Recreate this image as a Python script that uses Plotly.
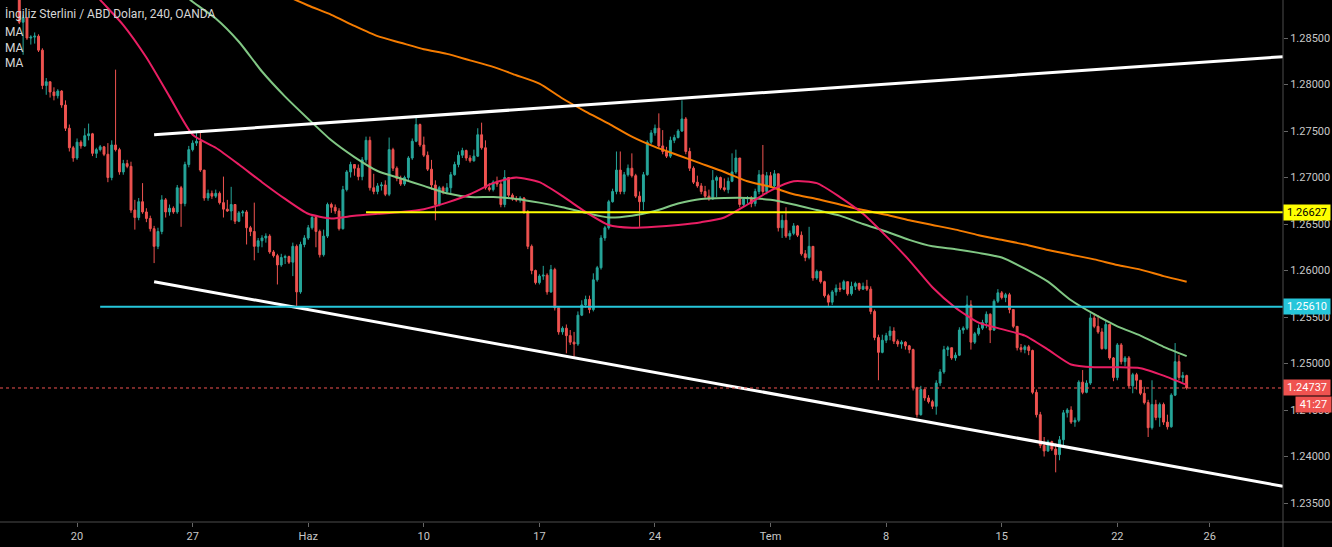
import pandas as pd
import plotly.graph_objects as go

# ---------------- data (GBP/USD, 4h bars, chart time) ----------------
first_open = 1.2896
closes = [
    1.2867, 1.2872, 1.2850, 1.2851, 1.2852, 1.2837, 1.2799, 1.2803, 1.2792, 1.2788, 1.2793, 1.2778, 1.2753, 1.2732, 1.2721,
    1.2738, 1.2734, 1.2745, 1.2747, 1.2726, 1.2730, 1.2733, 1.2725, 1.2700, 1.2735,
    1.2730, 1.2706, 1.2715, 1.2712, 1.2665, 1.2657, 1.2674, 1.2663, 1.2656, 1.2645,
    1.2626, 1.2642, 1.2676, 1.2663, 1.2667, 1.2663, 1.2689, 1.2672, 1.2714, 1.2730,
    1.2737, 1.2739, 1.2708, 1.2678, 1.2683, 1.2680, 1.2683, 1.2673, 1.2666, 1.2664,
    1.2671, 1.2653, 1.2662, 1.2663, 1.2646, 1.2642, 1.2626, 1.2632, 1.2635, 1.2637,
    1.2620, 1.2616, 1.2606, 1.2614, 1.2615, 1.2609, 1.2626, 1.2577, 1.2628, 1.2635,
    1.2646, 1.2657, 1.2642, 1.2617, 1.2637, 1.2671, 1.2668, 1.2664, 1.2645, 1.2687,
    1.2706, 1.2714, 1.2710, 1.2701, 1.2719, 1.2740, 1.2689, 1.2685, 1.2691, 1.2692,
    1.2682, 1.2730, 1.2710, 1.2699, 1.2693, 1.2700, 1.2721, 1.2739, 1.2757, 1.2735,
    1.2724, 1.2709, 1.2692, 1.2671, 1.2689, 1.2685, 1.2689, 1.2703, 1.2714, 1.2724,
    1.2729, 1.2721, 1.2718, 1.2723, 1.2746, 1.2732, 1.2689, 1.2687, 1.2695, 1.2693,
    1.2671, 1.2700, 1.2681, 1.2677, 1.2676, 1.2678, 1.2663, 1.2626, 1.2600, 1.2587,
    1.2594, 1.2595, 1.2577, 1.2601, 1.2560, 1.2534, 1.2538, 1.2530, 1.2523, 1.2521,
    1.2552, 1.2563, 1.2569, 1.2558, 1.2590, 1.2603, 1.2635, 1.2646, 1.2674, 1.2685,
    1.2708, 1.2685, 1.2703, 1.2710, 1.2702, 1.2680, 1.2674, 1.2703, 1.2738, 1.2748,
    1.2753, 1.2734, 1.2728, 1.2723, 1.2740, 1.2743, 1.2750, 1.2763, 1.2728, 1.2710,
    1.2695, 1.2691, 1.2685, 1.2680, 1.2677, 1.2697, 1.2700, 1.2689, 1.2687, 1.2696,
    1.2706, 1.2721, 1.2671, 1.2677, 1.2678, 1.2672, 1.2685, 1.2703, 1.2685, 1.2702,
    1.2691, 1.2704, 1.2646, 1.2654, 1.2637, 1.2640, 1.2648, 1.2638, 1.2618, 1.2614,
    1.2626, 1.2592, 1.2599, 1.2588, 1.2573, 1.2566, 1.2577, 1.2581, 1.2580, 1.2588,
    1.2575, 1.2583, 1.2586, 1.2580, 1.2583, 1.2580, 1.2556, 1.2528, 1.2512, 1.2525,
    1.2530, 1.2535, 1.2524, 1.2521, 1.2523, 1.2519, 1.2515, 1.2474, 1.2445, 1.2472,
    1.2463, 1.2459, 1.2454, 1.2479, 1.2491, 1.2515, 1.2517, 1.2506, 1.2509, 1.2536,
    1.2538, 1.2563, 1.2523, 1.2532, 1.2538, 1.2544, 1.2553, 1.2536, 1.2567, 1.2576,
    1.2571, 1.2574, 1.2558, 1.2540, 1.2517, 1.2515, 1.2518, 1.2514, 1.2469, 1.2445,
    1.2412, 1.2406, 1.2416, 1.2408, 1.2402, 1.2418, 1.2447, 1.2450, 1.2437, 1.2439,
    1.2480, 1.2469, 1.2479, 1.2549, 1.2540, 1.2534, 1.2516, 1.2542, 1.2506, 1.2485,
    1.2520, 1.2502, 1.2506, 1.2476, 1.2488, 1.2482, 1.2468, 1.2458, 1.2431, 1.2456,
    1.2442, 1.2456, 1.2437, 1.2432, 1.2466, 1.2502, 1.2485, 1.2487, 1.24737,
]
highs = [
    1.2900, 1.2875, 1.2872, 1.2853, 1.2856, 1.2854, 1.2839, 1.2807, 1.2803, 1.2797, 1.2795, 1.2794, 1.2783, 1.2757, 1.2734,
    1.2742, 1.2740, 1.2753, 1.2758, 1.2748, 1.2732, 1.2735, 1.2734, 1.2737, 1.2740,
    1.2816, 1.2732, 1.2719, 1.2719, 1.2717, 1.2676, 1.2678, 1.2694, 1.2667, 1.2659,
    1.2648, 1.2646, 1.2681, 1.2678, 1.2671, 1.2669, 1.2692, 1.2691, 1.2717, 1.2734,
    1.2740, 1.2748, 1.2749, 1.2708, 1.2687, 1.2686, 1.2687, 1.2685, 1.2701, 1.2676,
    1.2690, 1.2671, 1.2664, 1.2665, 1.2665, 1.2648, 1.2673, 1.2635, 1.2638, 1.2640,
    1.2639, 1.2622, 1.2618, 1.2618, 1.2617, 1.2616, 1.2630, 1.2628, 1.2631, 1.2638,
    1.2649, 1.2660, 1.2659, 1.2644, 1.2644, 1.2673, 1.2673, 1.2671, 1.2667, 1.2691,
    1.2708, 1.2717, 1.2714, 1.2714, 1.2722, 1.2744, 1.2744, 1.2704, 1.2694, 1.2695,
    1.2697, 1.2743, 1.2732, 1.2712, 1.2702, 1.2702, 1.2723, 1.2742, 1.2764, 1.2758,
    1.2744, 1.2728, 1.2719, 1.2697, 1.2691, 1.2691, 1.2694, 1.2706, 1.2717, 1.2728,
    1.2732, 1.2730, 1.2724, 1.2730, 1.2753, 1.2759, 1.2740, 1.2694, 1.2697, 1.2701,
    1.2697, 1.2708, 1.2700, 1.2683, 1.2680, 1.2680, 1.2679, 1.2665, 1.2628, 1.2601,
    1.2596, 1.2605, 1.2597, 1.2606, 1.2603, 1.2560, 1.2540, 1.2542, 1.2536, 1.2534,
    1.2556, 1.2568, 1.2573, 1.2573, 1.2597, 1.2605, 1.2638, 1.2648, 1.2676, 1.2688,
    1.2728, 1.2728, 1.2706, 1.2714, 1.2726, 1.2704, 1.2685, 1.2706, 1.2740, 1.2751,
    1.2757, 1.2769, 1.2751, 1.2733, 1.2744, 1.2746, 1.2752, 1.2783, 1.2765, 1.2732,
    1.2712, 1.2702, 1.2694, 1.2691, 1.2687, 1.2708, 1.2702, 1.2701, 1.2699, 1.2700,
    1.2726, 1.2730, 1.2721, 1.2679, 1.2680, 1.2680, 1.2688, 1.2708, 1.2735, 1.2706,
    1.2706, 1.2708, 1.2703, 1.2660, 1.2668, 1.2643, 1.2651, 1.2649, 1.2642, 1.2622,
    1.2647, 1.2626, 1.2601, 1.2600, 1.2589, 1.2575, 1.2579, 1.2585, 1.2587, 1.2590,
    1.2588, 1.2588, 1.2588, 1.2587, 1.2587, 1.2590, 1.2583, 1.2558, 1.2531, 1.2531,
    1.2533, 1.2540, 1.2539, 1.2526, 1.2525, 1.2524, 1.2520, 1.2516, 1.2475, 1.2476,
    1.2473, 1.2466, 1.2461, 1.2482, 1.2494, 1.2519, 1.2519, 1.2517, 1.2512, 1.2539,
    1.2540, 1.2573, 1.2568, 1.2534, 1.2542, 1.2547, 1.2556, 1.2554, 1.2569, 1.2580,
    1.2578, 1.2576, 1.2576, 1.2556, 1.2540, 1.2521, 1.2520, 1.2520, 1.2515, 1.2472,
    1.2448, 1.2421, 1.2418, 1.2417, 1.2414, 1.2422, 1.2450, 1.2452, 1.2454, 1.2442,
    1.2482, 1.2493, 1.2482, 1.2554, 1.2554, 1.2552, 1.2538, 1.2547, 1.2538, 1.2507,
    1.2522, 1.2522, 1.2508, 1.2508, 1.2490, 1.2490, 1.2482, 1.2475, 1.2461, 1.2482,
    1.2461, 1.2458, 1.2458, 1.2445, 1.2468, 1.2522, 1.2509, 1.2491, 1.2488,
]
lows = [
    1.2865, 1.2832, 1.2848, 1.2843, 1.2844, 1.2835, 1.2795, 1.2789, 1.2786, 1.2783, 1.2785, 1.2775, 1.2750, 1.2728, 1.2717,
    1.2719, 1.2731, 1.2733, 1.2740, 1.2723, 1.2721, 1.2728, 1.2723, 1.2695, 1.2697,
    1.2728, 1.2703, 1.2703, 1.2710, 1.2662, 1.2644, 1.2654, 1.2661, 1.2652, 1.2642,
    1.2608, 1.2623, 1.2639, 1.2657, 1.2659, 1.2661, 1.2661, 1.2647, 1.2669, 1.2711,
    1.2728, 1.2734, 1.2706, 1.2675, 1.2675, 1.2677, 1.2678, 1.2671, 1.2657, 1.2663,
    1.2654, 1.2650, 1.2652, 1.2658, 1.2628, 1.2637, 1.2611, 1.2619, 1.2625, 1.2630,
    1.2618, 1.2614, 1.2585, 1.2604, 1.2607, 1.2607, 1.2594, 1.2561, 1.2575, 1.2625,
    1.2633, 1.2644, 1.2625, 1.2614, 1.2615, 1.2635, 1.2662, 1.2661, 1.2643, 1.2644,
    1.2685, 1.2700, 1.2702, 1.2697, 1.2697, 1.2716, 1.2686, 1.2682, 1.2682, 1.2686,
    1.2680, 1.2680, 1.2707, 1.2696, 1.2691, 1.2691, 1.2697, 1.2719, 1.2738, 1.2733,
    1.2722, 1.2707, 1.2687, 1.2654, 1.2669, 1.2682, 1.2682, 1.2683, 1.2702, 1.2711,
    1.2721, 1.2718, 1.2716, 1.2717, 1.2722, 1.2730, 1.2687, 1.2685, 1.2685, 1.2690,
    1.2668, 1.2668, 1.2679, 1.2675, 1.2674, 1.2673, 1.2661, 1.2623, 1.2596, 1.2585,
    1.2585, 1.2590, 1.2574, 1.2576, 1.2557, 1.2531, 1.2531, 1.2511, 1.2520, 1.2507,
    1.2519, 1.2551, 1.2560, 1.2554, 1.2556, 1.2588, 1.2601, 1.2632, 1.2644, 1.2673,
    1.2682, 1.2682, 1.2682, 1.2701, 1.2700, 1.2678, 1.2647, 1.2665, 1.2702, 1.2736,
    1.2745, 1.2732, 1.2725, 1.2721, 1.2721, 1.2737, 1.2742, 1.2749, 1.2725, 1.2707,
    1.2693, 1.2689, 1.2682, 1.2678, 1.2675, 1.2676, 1.2679, 1.2687, 1.2685, 1.2683,
    1.2695, 1.2704, 1.2668, 1.2669, 1.2672, 1.2668, 1.2669, 1.2682, 1.2682, 1.2682,
    1.2689, 1.2689, 1.2642, 1.2635, 1.2635, 1.2633, 1.2638, 1.2636, 1.2616, 1.2610,
    1.2612, 1.2589, 1.2590, 1.2586, 1.2571, 1.2562, 1.2563, 1.2573, 1.2577, 1.2579,
    1.2573, 1.2573, 1.2579, 1.2578, 1.2579, 1.2578, 1.2553, 1.2525, 1.2482, 1.2511,
    1.2522, 1.2525, 1.2521, 1.2518, 1.2516, 1.2515, 1.2511, 1.2471, 1.2442, 1.2444,
    1.2460, 1.2457, 1.2451, 1.2445, 1.2476, 1.2489, 1.2508, 1.2504, 1.2503, 1.2508,
    1.2532, 1.2536, 1.2515, 1.2521, 1.2530, 1.2536, 1.2538, 1.2522, 1.2535, 1.2565,
    1.2569, 1.2566, 1.2554, 1.2538, 1.2514, 1.2512, 1.2511, 1.2509, 1.2467, 1.2442,
    1.2409, 1.2400, 1.2405, 1.2406, 1.2383, 1.2396, 1.2412, 1.2442, 1.2435, 1.2432,
    1.2437, 1.2467, 1.2468, 1.2477, 1.2538, 1.2532, 1.2515, 1.2515, 1.2504, 1.2481,
    1.2482, 1.2499, 1.2497, 1.2474, 1.2468, 1.2472, 1.2466, 1.2456, 1.2421, 1.2429,
    1.2439, 1.2432, 1.2434, 1.2429, 1.2431, 1.2465, 1.2482, 1.2480, 1.2472,
]

# moving averages, read once per trading day (00:00 bar)
ma_red = [
    1.2919, 1.2891, 1.2864, 1.2829, 1.2787, 1.2746, 1.2732, 1.2714, 1.2695, 1.2677,
    1.2661, 1.2656, 1.2659, 1.2661, 1.2663, 1.2666, 1.2673, 1.2682, 1.2694, 1.2700,
    1.2695, 1.2680, 1.2663, 1.2649, 1.2646, 1.2647, 1.2649, 1.2652, 1.2657, 1.2671,
    1.2686, 1.2696, 1.2694, 1.2679, 1.2661, 1.2637, 1.2611, 1.2582, 1.2560, 1.2544,
    1.2537, 1.2530, 1.2515, 1.2499, 1.2496, 1.2496, 1.2495, 1.2487, 1.2477,
]
ma_green = [
    1.2910, 1.2889, 1.2871, 1.2846, 1.2814, 1.2787, 1.2763, 1.2740, 1.2722, 1.2707,
    1.2699, 1.2691, 1.2683, 1.2679, 1.2679, 1.2677, 1.2673, 1.2668, 1.2662, 1.2657,
    1.2659, 1.2664, 1.2672, 1.2677, 1.2678, 1.2678, 1.2676, 1.2671, 1.2665, 1.2659,
    1.2650, 1.2642, 1.2633, 1.2626, 1.2623, 1.2619, 1.2614, 1.2602, 1.2588, 1.2568,
    1.2553, 1.2540, 1.2530, 1.2518, 1.2508,
]
ma_orange = [
    1.2896, 1.2885, 1.2875, 1.2863, 1.2852, 1.2845, 1.2838, 1.2833, 1.2826, 1.2819,
    1.2810, 1.2801, 1.2785, 1.2771, 1.2758, 1.2744, 1.2733, 1.2724, 1.2715, 1.2706,
    1.2696, 1.2690, 1.2682, 1.2677, 1.2671, 1.2665, 1.2660, 1.2654, 1.2649, 1.2644,
    1.2638, 1.2633, 1.2628, 1.2622, 1.2617, 1.2612, 1.2606, 1.2601, 1.2594, 1.2588,
]

# drawings
upper_trend = [("2019-05-23 08:00", 1.2746), ("2019-07-31 04:00", 1.2830)]
lower_trend = [("2019-05-23 08:00", 1.2588), ("2019-07-31 04:00", 1.2368)]
yellow_level = 1.26627
yellow_start = "2019-06-05 12:00"
cyan_level = 1.25610
cyan_start = "2019-05-21 00:00"
last_price = 1.24737
countdown = "41:27"

tick_dates = ["2019-05-20", "2019-05-27", "2019-06-03", "2019-06-10", "2019-06-17",
              "2019-06-24", "2019-07-01", "2019-07-08", "2019-07-15", "2019-07-22", "2019-07-26"]
tick_labels = ["20", "27", "Haz", "10", "17", "24", "Tem", "8", "15", "22", "26"]
price_ticks = [1.235, 1.240, 1.245, 1.250, 1.255, 1.260, 1.265, 1.270, 1.275, 1.280, 1.285]

title_text = "İngiliz Sterlini / ABD Doları, 240, OANDA"

# ---------------- build ----------------
all_times = pd.date_range("2019-05-15 12:00", "2019-07-25 00:00", freq="4h")
times = [t for t in all_times if t.weekday() < 5][:len(closes)]
opens = [first_open] + closes[:-1]
highs = [max(h, o, c) for h, o, c in zip(highs, opens, closes)]
lows = [min(l, o, c) for l, o, c in zip(lows, opens, closes)]

days = pd.bdate_range("2019-05-20", "2019-07-25")
red_days = days[len(days) - len(ma_red):]
green_days = days[len(days) - len(ma_green):]
orange_days = days[len(days) - len(ma_orange):]

UP, DOWN = "#26a69a", "#ef5350"
X_START, X_END = "2019-05-14 16:00", "2019-07-31 04:00"
Y_MIN, Y_MAX = 1.23296, 1.28909
FONT = "Roboto, 'Liberation Sans', sans-serif"

fig = go.Figure()
fig.add_trace(go.Candlestick(
    x=times, open=opens, high=highs, low=lows, close=closes,
    increasing=dict(line=dict(color=UP, width=1), fillcolor=UP),
    decreasing=dict(line=dict(color=DOWN, width=1), fillcolor=DOWN),
    whiskerwidth=0, showlegend=False))
for d, v, col in [(orange_days, ma_orange, "#f57c00"),
                  (green_days, ma_green, "#81c784"),
                  (red_days, ma_red, "#e91e63")]:
    fig.add_trace(go.Scatter(x=d, y=v, mode="lines", showlegend=False, hoverinfo="skip",
                             line=dict(color=col, width=2, shape="spline", smoothing=0.6)))

shapes = []
for (p0, p1) in [upper_trend, lower_trend]:
    shapes.append(dict(type="line", xref="x", yref="y", x0=p0[0], y0=p0[1], x1=p1[0], y1=p1[1],
                       line=dict(color="#ffffff", width=3)))
shapes.append(dict(type="line", xref="x", yref="y", x0=yellow_start, x1=X_END, y0=yellow_level, y1=yellow_level,
                   line=dict(color="#ffff00", width=2)))
shapes.append(dict(type="line", xref="x", yref="y", x0=cyan_start, x1=X_END, y0=cyan_level, y1=cyan_level,
                   line=dict(color="#26c6da", width=2)))
shapes.append(dict(type="line", xref="paper", yref="y", x0=0, x1=1, y0=last_price, y1=last_price,
                   line=dict(color="#ef5350", width=1, dash="dot")))
# axis separators
shapes.append(dict(type="line", xref="paper", yref="paper", x0=0, x1=1.04, y0=0, y1=0,
                   line=dict(color="#4c4c4c", width=1)))
shapes.append(dict(type="line", xref="paper", yref="paper", x0=1, x1=1, y0=-0.05, y1=1,
                   line=dict(color="#4c4c4c", width=1)))

annotations = [
    dict(xref="paper", yref="paper", x=0, y=1, xanchor="left", yanchor="top", xshift=3, yshift=-4,
         text=title_text, showarrow=False, font=dict(color="#d6d6d6", size=12, family=FONT)),
]
for k in range(3):
    annotations.append(dict(xref="paper", yref="paper", x=0, y=1, xanchor="left", yanchor="top",
                            xshift=3, yshift=-23 - 15.5 * k, text="MA", showarrow=False,
                            font=dict(color="#d6d6d6", size=12, family=FONT)))
for lvl, bg, fg in [(yellow_level, "#ffff00", "#000000"),
                    (cyan_level, "#26c6da", "#ffffff"),
                    (last_price, "#ef5350", "#ffffff")]:
    annotations.append(dict(xref="paper", yref="y", x=1, y=lvl, xanchor="left", yanchor="middle",
                            text=f"{lvl:.5f}", showarrow=False, bgcolor=bg, width=44, height=13,
                            borderpad=1, font=dict(color=fg, size=11, family=FONT)))
annotations.append(dict(xref="paper", yref="y", x=1, y=last_price, xanchor="right", yanchor="middle",
                        xshift=49, yshift=-17, text=countdown, showarrow=False, bgcolor="#ef5350",
                        width=33, height=13, borderpad=1, font=dict(color="#ffffff", size=11, family=FONT)))

fig.update_layout(
    width=1332, height=547, margin=dict(l=0, r=49, t=0, b=25),
    paper_bgcolor="#000000", plot_bgcolor="#000000", showlegend=False,
    shapes=shapes, annotations=annotations,
    xaxis=dict(type="date", range=[X_START, X_END], rangebreaks=[dict(bounds=["sat", "mon"])],
               rangeslider=dict(visible=False), tickvals=tick_dates, ticktext=tick_labels,
               showgrid=False, zeroline=False, showline=False, ticks="outside", ticklen=4,
               tickcolor="#666666", tickfont=dict(color="#c8c8c8", size=11, family=FONT)),
    yaxis=dict(side="right", range=[Y_MIN, Y_MAX], tickvals=price_ticks, tickformat=".5f",
               showgrid=False, zeroline=False, showline=False, ticks="outside", ticklen=4,
               tickcolor="#666666", tickfont=dict(color="#c8c8c8", size=11, family=FONT)),
)

fig.write_html("out.html", config={"displayModeBar": False})
